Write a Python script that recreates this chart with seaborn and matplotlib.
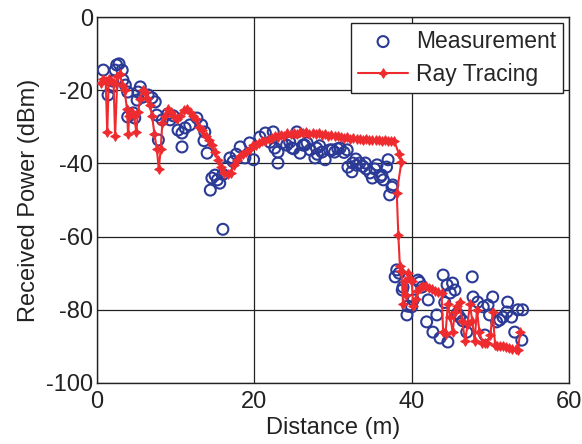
import matplotlib
matplotlib.use("Agg")
import matplotlib.pyplot as plt
import seaborn as sns
import pandas as pd

# ---------------- data ----------------
meas_x = [0.8, 1.4, 1.9, 2.3, 2.5, 2.8, 3.2, 3.3, 3.6, 3.9, 3.9, 4.6, 4.8, 5.1, 5.2, 5.5, 5.8, 6.5, 7.0, 7.4,
          7.6, 7.8, 8.3, 9.3, 9.7, 10.3, 10.8, 10.8, 11.2, 11.8, 12.7, 13.3, 13.7, 13.6, 14.0, 14.4, 14.6, 15.0, 15.3, 15.6,
          16.0, 16.0, 16.5, 16.9, 17.3, 17.7, 18.2, 18.8, 19.4, 19.9, 20.7, 21.4, 22.0, 22.4, 23.0, 23.0, 23.5, 24.1, 24.5, 25.0,
          25.4, 25.8, 26.2, 26.7, 27.1, 27.7, 27.9, 28.3, 28.6, 29.0, 29.6, 30.2, 30.6, 30.9, 31.4, 31.8, 31.9, 32.4, 32.5, 33.0,
          33.4, 33.8, 34.2, 34.7, 35.0, 35.3, 35.6, 36.0, 36.4, 36.8, 37.0, 37.2, 37.5, 37.6, 37.9, 38.1, 38.4, 38.8, 38.9, 39.4,
          39.5, 40.0, 40.2, 40.8, 41.0, 41.3, 41.9, 42.1, 42.7, 43.2, 43.6, 44.0, 44.2, 44.5, 44.6, 44.9, 45.2, 45.5, 45.8, 46.1,
          46.5, 47.0, 47.7, 47.8, 48.4, 49.1, 49.3, 49.7, 49.9, 50.3, 50.8, 51.2, 51.6, 52.1, 52.2, 52.7, 53.1, 53.5, 54.0, 54.1,
          22.6, 24.8, 26.4, 29.9, 34.1, 36.2, 28.0, 32.9, 2.0, 9.0]
meas_y = [-14.5, -21.3, -19.1, -14.5, -13.1, -12.8, -14.5, -17.2, -18.6, -20.5, -27.3, -26.2, -27.6, -22.7, -20.5, -19.1, -21.9, -21.3, -22.1, -23.2,
          -26.8, -33.6, -28.1, -28.1, -27.0, -30.9, -31.7, -35.5, -30.3, -29.5, -27.6, -29.5, -31.4, -33.8, -37.2, -47.3, -44.0, -43.2, -44.5, -45.4,
          -58.0, -43.0, -41.0, -38.5, -39.5, -37.5, -35.5, -38.5, -34.4, -39.0, -32.8, -31.7, -34.2, -31.4, -36.9, -39.9, -34.4, -35.0, -34.2, -36.0,
          -31.4, -37.2, -35.0, -34.4, -36.3, -38.5, -35.8, -35.2, -36.9, -39.0, -36.3, -36.9, -36.0, -35.8, -37.0, -36.3, -41.0, -42.3, -39.9, -40.5,
          -39.9, -40.8, -41.5, -42.6, -44.0, -41.5, -40.4, -43.7, -44.5, -41.0, -39.0, -48.6, -46.5, -45.9, -71.0, -69.1, -70.0, -74.6, -73.8, -81.4,
          -79.0, -79.2, -77.3, -71.9, -72.5, -73.8, -83.3, -77.3, -86.1, -81.4, -87.7, -70.5, -78.0, -73.2, -88.8, -75.4, -72.7, -74.6, -81.0, -82.0,
          -83.0, -86.1, -71.0, -76.5, -77.9, -79.2, -86.9, -78.7, -81.4, -76.5, -83.3, -82.8, -82.0, -80.6, -77.9, -82.0, -86.1, -80.0, -88.3, -80.0,
          -35.8, -35.8, -35.0, -36.3, -39.9, -43.2, -37.5, -38.8, -17.5, -26.5]

ray_x = [0.5, 0.8, 1.1, 1.3, 1.5, 1.8, 2.1, 2.3, 2.6, 2.9, 3.2, 3.5, 3.8, 3.95, 4.1, 4.4, 4.7, 5.0, 5.2, 5.5,
         5.8, 6.1, 6.4, 6.7, 7.0, 7.3, 7.6, 7.85, 8.1, 8.3, 8.6, 9.0, 9.4, 9.8, 10.2, 10.6, 11.0, 11.4, 11.8, 12.2,
         12.6, 13.0, 13.4, 13.8, 14.2, 14.6, 15.0, 15.4, 15.8, 16.2, 16.6, 17.0, 17.4, 17.8, 18.2, 18.6, 19.0, 19.4, 19.8, 20.2,
         20.6, 21.0, 21.4, 21.8, 22.2, 22.6, 23.0, 23.4, 23.8, 24.2, 24.6, 25.0, 25.4, 25.8, 26.2, 26.6, 27.0, 27.4, 27.8, 28.2,
         28.6, 29.0, 29.4, 29.8, 30.2, 30.6, 31.0, 31.4, 31.8, 32.2, 32.6, 33.0, 33.4, 33.8, 34.2, 34.6, 35.0, 35.4, 35.8, 36.2,
         36.6, 37.0, 37.4, 37.8, 38.4, 38.7, 38.1, 38.3, 38.5, 38.7, 38.9, 39.1, 39.3, 39.5, 39.8, 40.0, 40.2, 40.5, 40.7, 41.0,
         41.4, 41.8, 42.2, 42.6, 43.0, 43.4, 43.8, 44.0, 44.3, 44.6, 44.9, 45.2, 45.5, 45.8, 46.1, 46.4, 46.8, 47.1, 47.4, 47.7,
         48.0, 48.3, 48.6, 49.0, 49.3, 49.6, 50.0, 50.3, 50.6, 50.9, 51.2, 51.6, 52.0, 52.4, 52.8, 53.2, 53.5, 53.8]
ray_y = [-18.0, -17.0, -17.5, -31.5, -17.0, -17.5, -18.0, -32.5, -16.0, -15.5, -18.5, -20.0, -25.0, -32.0, -27.0, -26.0, -27.0, -31.5, -26.0, -22.5,
         -20.0, -20.5, -22.0, -24.0, -27.0, -32.0, -36.0, -41.5, -36.0, -29.0, -27.0, -25.0, -26.0, -27.0, -28.0, -27.0, -25.5, -25.0, -26.0, -27.0,
         -28.0, -30.0, -31.0, -32.5, -33.5, -35.0, -37.0, -39.0, -41.0, -42.5, -43.0, -42.5, -40.5, -39.0, -38.0, -37.5, -37.0, -36.0, -35.0, -35.0,
         -34.5, -34.0, -33.8, -33.2, -33.0, -32.6, -32.8, -32.2, -32.4, -31.8, -32.0, -31.6, -32.0, -31.5, -31.8, -31.4, -31.9, -31.6, -32.1, -31.8,
         -32.3, -32.0, -32.5, -32.3, -32.6, -32.5, -32.8, -33.0, -32.9, -33.2, -33.1, -33.3, -33.2, -33.5, -33.4, -33.6, -33.5, -33.7, -33.6, -33.8,
         -33.7, -33.9, -33.8, -34.0, -37.5, -39.5, -48.0, -59.5, -68.0, -69.5, -78.5, -72.0, -76.0, -70.0, -71.5, -72.0, -79.0, -77.0, -75.0, -74.0,
         -73.5, -73.5, -74.0, -74.2, -74.8, -75.2, -75.5, -86.0, -86.5, -78.5, -82.0, -86.0, -80.5, -79.0, -78.0, -83.0, -88.5, -84.0, -78.5, -83.0,
         -88.5, -80.0, -86.0, -89.0, -89.0, -89.2, -87.0, -80.5, -89.5, -89.8, -90.0, -90.0, -90.3, -90.4, -90.6, -90.8, -91.0, -86.0]

x_ticks = [0, 20, 40, 60]
y_ticks = [0, -20, -40, -60, -80, -100]
x_label = "Distance (m)"
y_label = "Received Power (dBm)"
legend_labels = ["Measurement", "Ray Tracing"]

# ---------------- plot ----------------
sns.set_style("white")
plt.rcParams["font.family"] = ["Liberation Sans", "DejaVu Sans"]

blue = "#2b3a96"
red = "#ee2b2f"

fig = plt.figure(figsize=(5.82, 4.44), dpi=100)
ax = fig.add_axes([0.1667, 0.1374, 0.8110, 0.8243])

meas_df = pd.DataFrame({"x": meas_x, "y": meas_y})
ray_df = pd.DataFrame({"x": ray_x, "y": ray_y})

sns.scatterplot(data=meas_df, x="x", y="y", ax=ax, marker="o", s=62,
                facecolor="none", edgecolor=blue, linewidth=1.5,
                label=legend_labels[0], zorder=3)
sns.lineplot(data=ray_df, x="x", y="y", ax=ax, sort=False, estimator=None,
             color=red, linewidth=1.5, marker=(4, 1, 0), markersize=7,
             markeredgecolor=red, markerfacecolor=red,
             label=legend_labels[1], zorder=4)

ax.set_xlim(0, 60)
ax.set_ylim(-100, 0)
ax.set_xticks(x_ticks)
ax.set_yticks(y_ticks)
ax.set_xticklabels([str(t) for t in x_ticks])
ax.set_yticklabels([str(t) for t in y_ticks])
ax.grid(True, color="#222222", linewidth=0.9)
ax.set_axisbelow(True)
for sp in ax.spines.values():
    sp.set_color("#222222")
    sp.set_linewidth(1.0)
ax.tick_params(axis="y", labelsize=17, length=0, pad=3, colors="#222222")
ax.tick_params(axis="x", labelsize=17, length=0, pad=6, colors="#222222")
ax.set_xlabel(x_label, fontsize=17, labelpad=3, color="#222222")
ax.set_ylabel(y_label, fontsize=17, labelpad=4, color="#222222")

leg = ax.legend(loc="upper right", fontsize=16.5, frameon=True, fancybox=False,
                edgecolor="#222222", framealpha=1, borderpad=0.3, handlelength=2.2,
                handletextpad=0.35, labelspacing=0.45, borderaxespad=0.25)
leg.get_frame().set_linewidth(1.0)

fig.savefig("out.png", dpi=100)
